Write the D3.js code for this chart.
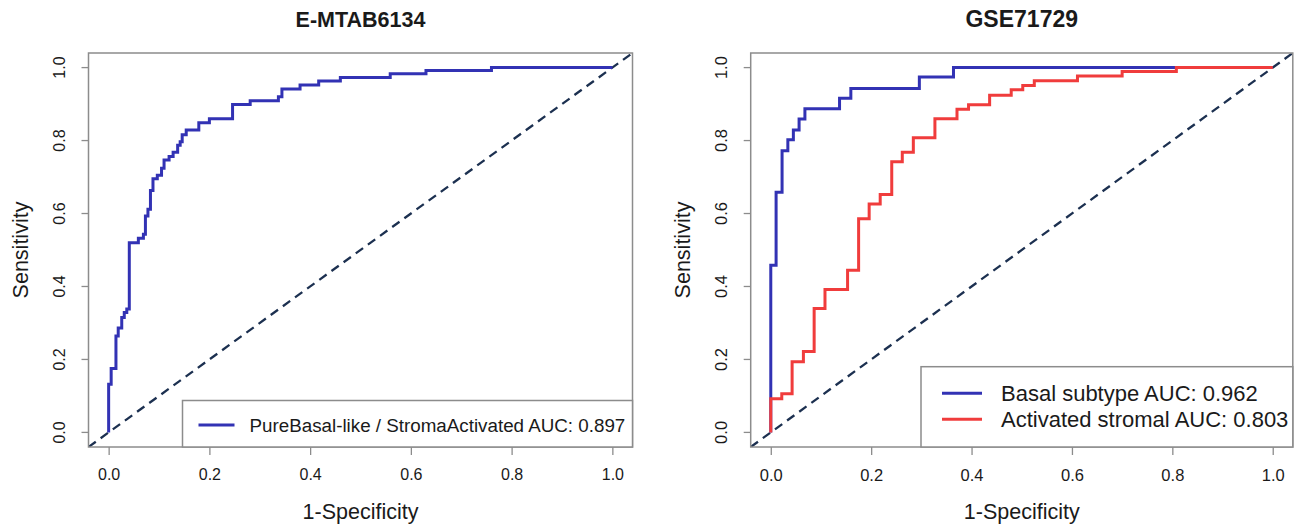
<!DOCTYPE html>
<html>
<head>
<meta charset="utf-8">
<script src="https://cdn.jsdelivr.net/npm/d3@7"></script>
<style>
  body { margin: 0; background: #fff; }
  text { font-family: "Liberation Sans", Arial, sans-serif; }
</style>
</head>
<body>
<div id="chart"></div>
<script>
// tick values shared by both panels
const tickValues = [0, 0.2, 0.4, 0.6, 0.8, 1.0];
const tickLabels = ["0.0", "0.2", "0.4", "0.6", "0.8", "1.0"];

// E-MTAB6134 ROC (fpr at step, tpr after step)
const mtabFpr = [0, 0, 0.005, 0.0145, 0.019, 0.026, 0.031, 0.036, 0.041, 0.059, 0.069, 0.073, 0.078, 0.083, 0.088, 0.0966, 0.105, 0.110, 0.120, 0.128, 0.137, 0.142, 0.146, 0.154, 0.179, 0.200, 0.246, 0.281, 0.337, 0.344, 0.380, 0.417, 0.460, 0.559, 0.630, 0.760, 1.0];
const mtabTpr = [0, 0.132, 0.175, 0.264, 0.286, 0.315, 0.329, 0.338, 0.520, 0.532, 0.543, 0.593, 0.612, 0.663, 0.695, 0.705, 0.724, 0.747, 0.756, 0.768, 0.787, 0.797, 0.816, 0.829, 0.849, 0.860, 0.899, 0.909, 0.920, 0.941, 0.952, 0.963, 0.973, 0.983, 0.992, 1.0, 1.0];

// GSE71729 ROC curves
const basalFpr = [0, 0, 0.0106, 0.0225, 0.034, 0.045, 0.0564, 0.068, 0.137, 0.1595, 0.296, 0.364, 1.0];
const basalTpr = [0, 0.458, 0.658, 0.772, 0.802, 0.829, 0.859, 0.887, 0.916, 0.943, 0.974, 1.0, 1.0];
const stromalFpr = [0, 0, 0.0219, 0.0425, 0.065, 0.0864, 0.108, 0.153, 0.175, 0.196, 0.218, 0.241, 0.262, 0.284, 0.327, 0.371, 0.394, 0.436, 0.479, 0.502, 0.525, 0.611, 0.700, 0.808, 1.0];
const stromalTpr = [0, 0.0925, 0.106, 0.194, 0.2215, 0.3395, 0.3917, 0.4447, 0.5855, 0.6259, 0.652, 0.742, 0.768, 0.808, 0.860, 0.886, 0.898, 0.924, 0.939, 0.951, 0.964, 0.977, 0.989, 1.0, 1.0];

const titles = ["E-MTAB6134", "GSE71729"];
const legendLeft = ["PureBasal-like / StromaActivated AUC: 0.897"];
const legendRight = ["Basal subtype AUC: 0.962", "Activated stromal AUC: 0.803"];

const blue = "#3232b4";
const red = "#f03c3c";
const frameColor = "#8c8c8c";
const textColor = "#1a1a1a";

const W = 1304, H = 524;
const svg = d3.select("#chart").append("svg")
  .attr("width", W)
  .attr("height", H)
  .style("background", "#fff");

const zip = (a, b) => a.map((v, i) => [v, b[i]]);

function drawPanel(left, right, title, curves, legend, fs) {
  const top = 53, bottom = 447;
  const x = d3.scaleLinear().domain([-0.04, 1.04]).range([left, right]);
  const y = d3.scaleLinear().domain([-0.04, 1.04]).range([bottom, top]);
  const g = svg.append("g");

  const clipId = "clip" + Math.round(left);
  g.append("clipPath").attr("id", clipId)
    .append("rect")
    .attr("x", left).attr("y", top)
    .attr("width", right - left).attr("height", bottom - top);

  // axes (R style: ticks outside, box drawn separately)
  const xAxis = g.append("g")
    .attr("transform", `translate(0,${bottom})`)
    .call(d3.axisBottom(x).tickValues(tickValues)
      .tickFormat((d, i) => tickLabels[i]).tickSize(8).tickPadding(14));
  const yAxis = g.append("g")
    .attr("transform", `translate(${left},0)`)
    .call(d3.axisLeft(y).tickValues(tickValues)
      .tickFormat((d, i) => tickLabels[i]).tickSize(7).tickPadding(0));
  [xAxis, yAxis].forEach(a => {
    a.select(".domain").remove();
    a.selectAll("line").attr("stroke", frameColor).attr("stroke-width", 1.3);
    a.selectAll("text").style("font-size", fs.tick + "px").attr("fill", textColor);
  });
  yAxis.selectAll("text")
    .attr("text-anchor", "middle")
    .attr("x", null).attr("dy", null)
    .attr("transform", d => `translate(${-28},${y(d)}) rotate(-90)`)
    .attr("y", 0)
    .attr("dominant-baseline", "middle");
  yAxis.selectAll(".tick").attr("transform", null);
  yAxis.selectAll(".tick line")
    .attr("y1", d => y(d)).attr("y2", d => y(d));

  // diagonal reference
  g.append("line")
    .attr("clip-path", `url(#${clipId})`)
    .attr("x1", x(-0.04)).attr("y1", y(-0.04))
    .attr("x2", x(1.04)).attr("y2", y(1.04))
    .attr("stroke", "#1c3050")
    .attr("stroke-width", 2.3)
    .attr("stroke-dasharray", "9,6");

  // ROC curves
  const line = d3.line()
    .x(d => x(d[0]))
    .y(d => y(d[1]))
    .curve(d3.curveStepAfter);
  curves.forEach(c => {
    g.append("path")
      .datum(c.points)
      .attr("fill", "none")
      .attr("stroke", c.color)
      .attr("stroke-width", 3)
      .attr("d", line);
  });

  // frame
  g.append("rect")
    .attr("x", left).attr("y", top)
    .attr("width", right - left).attr("height", bottom - top)
    .attr("fill", "none")
    .attr("stroke", frameColor)
    .attr("stroke-width", 1.5);

  // titles and axis labels
  g.append("text")
    .attr("x", (left + right) / 2).attr("y", 27)
    .attr("text-anchor", "middle")
    .style("font-size", fs.title + "px").style("font-weight", "bold")
    .attr("fill", textColor)
    .text(title);
  g.append("text")
    .attr("x", (left + right) / 2).attr("y", 519)
    .attr("text-anchor", "middle")
    .style("font-size", "21.5px")
    .attr("fill", textColor)
    .text("1-Specificity");
  g.append("text")
    .attr("transform", `translate(${left - 61},${(top + bottom) / 2}) rotate(-90)`)
    .attr("text-anchor", "middle")
    .style("font-size", "21.5px")
    .attr("fill", textColor)
    .text("Sensitivity");

  // legend
  g.append("rect")
    .attr("x", legend.x).attr("y", legend.y)
    .attr("width", right - legend.x).attr("height", bottom - legend.y)
    .attr("fill", "#fff")
    .attr("stroke", frameColor)
    .attr("stroke-width", 1.5);
  legend.items.forEach((it, i) => {
    const ly = legend.y + legend.first + i * 26;
    g.append("line")
      .attr("x1", legend.x + legend.lx1).attr("x2", legend.x + legend.lx2)
      .attr("y1", ly).attr("y2", ly)
      .attr("stroke", it.color).attr("stroke-width", 3);
    g.append("text")
      .attr("x", legend.x + legend.tx).attr("y", ly)
      .attr("dominant-baseline", "central")
      .style("font-size", fs.legend + "px")
      .attr("fill", textColor)
      .text(it.label);
  });
}

drawPanel(88.5, 632.5, titles[0],
  [{ points: zip(mtabFpr, mtabTpr), color: blue }],
  { x: 182.5, y: 400.5, first: 24.5, lx1: 16, lx2: 52, tx: 67,
    items: [{ label: legendLeft[0], color: blue }] },
  { title: 21.5, tick: 16, legend: 18.8 });

drawPanel(750.7, 1292.8, titles[1],
  [{ points: zip(basalFpr, basalTpr), color: blue },
   { points: zip(stromalFpr, stromalTpr), color: red }],
  { x: 921, y: 366.7, first: 26.6, lx1: 21, lx2: 61, tx: 80,
    items: [{ label: legendRight[0], color: blue }, { label: legendRight[1], color: red }] },
  { title: 23, tick: 16.5, legend: 22 });
</script>
</body>
</html>
